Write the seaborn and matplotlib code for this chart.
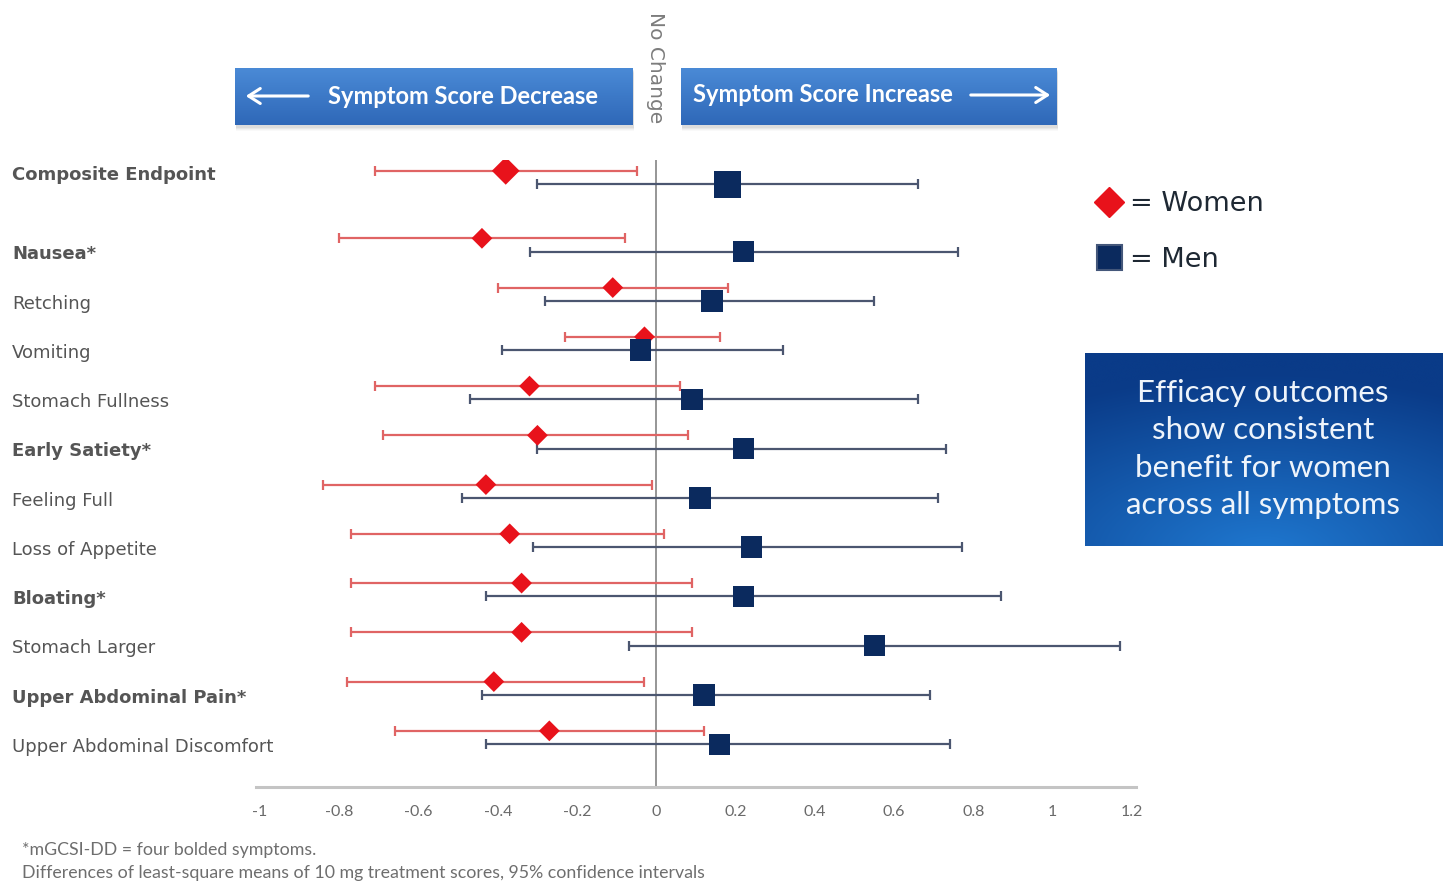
import numpy as np
import pandas as pd
import matplotlib
matplotlib.use("Agg")
import matplotlib.pyplot as plt
import matplotlib.transforms as mtransforms
from matplotlib.patches import Rectangle
from matplotlib.lines import Line2D
import seaborn as sns

# ---- data: least-square mean differences with 95% CI ----
symptoms = ["Composite Endpoint", "Nausea*", "Retching", "Vomiting",
            "Stomach Fullness", "Early Satiety*", "Feeling Full",
            "Loss of Appetite", "Bloating*", "Stomach Larger",
            "Upper Abdominal Pain*", "Upper Abdominal Discomfort"]
bold_symptoms = ["Composite Endpoint", "Nausea*", "Early Satiety*",
                 "Bloating*", "Upper Abdominal Pain*"]

women_est = [-0.38, -0.44, -0.11, -0.03, -0.32, -0.30, -0.43, -0.37, -0.34, -0.34, -0.41, -0.27]
women_lo = [-0.71, -0.80, -0.40, -0.23, -0.71, -0.69, -0.84, -0.77, -0.77, -0.77, -0.78, -0.66]
women_hi = [-0.05, -0.08, 0.18, 0.16, 0.06, 0.08, -0.01, 0.02, 0.09, 0.09, -0.03, 0.12]

men_est = [0.18, 0.22, 0.14, -0.04, 0.09, 0.22, 0.11, 0.24, 0.22, 0.55, 0.12, 0.16]
men_lo = [-0.30, -0.32, -0.28, -0.39, -0.47, -0.30, -0.49, -0.31, -0.43, -0.07, -0.44, -0.43]
men_hi = [0.66, 0.76, 0.55, 0.32, 0.66, 0.73, 0.71, 0.77, 0.87, 1.17, 0.69, 0.74]

x_ticks = [-1, -0.8, -0.6, -0.4, -0.2, 0, 0.2, 0.4, 0.6, 0.8, 1, 1.2]
x_tick_labels = ["-1", "-0.8", "-0.6", "-0.4", "-0.2", "0", "0.2", "0.4",
                 "0.6", "0.8", "1", "1.2"]

footnotes = ["*mGCSI-DD = four bolded symptoms.",
             "Differences of least-square means of 10 mg treatment scores, 95% confidence intervals"]
callout = "Efficacy outcomes\nshow consistent\nbenefit for women\nacross all symptoms"

# ---- colours ----
RED = "#e8121b"
RED_CI = "#e06464"
NAVY = "#0b2a5e"
NAVY_CI = "#4b5670"
LABEL_GREY = "#555555"

# ---- row layout: composite endpoint set apart from the item scores ----
row_pos = np.array([0.0] + [1.37 + i for i in range(len(symptoms) - 1)])
offset = 0.135

rows = []
for i, s in enumerate(symptoms):
    kind = "composite" if i == 0 else "item"
    rows.append(dict(symptom=s, sex="Women", est=women_est[i], lo=women_lo[i],
                     hi=women_hi[i], y=row_pos[i] - offset, key="Women " + kind))
    rows.append(dict(symptom=s, sex="Men", est=men_est[i], lo=men_lo[i],
                     hi=men_hi[i], y=row_pos[i] + offset, key="Men " + kind))
df = pd.DataFrame(rows)

sns.set_theme(style="white")
plt.rcParams["font.family"] = ["DejaVu Sans"]

W, H = 1447, 883
fig = plt.figure(figsize=(W / 100, H / 100), dpi=100)

def fx(px):
    return px / W

def fy(py):
    return 1 - py / H

# main forest plot axes
ax = fig.add_axes([fx(256), fy(787), fx(1136) - fx(256), fy(160) - fy(787)])
ax.set_facecolor("none")

# confidence intervals
for sex, col in (("Women", RED_CI), ("Men", NAVY_CI)):
    d = df[df.sex == sex]
    ax.errorbar(d.est, d.y, xerr=[d.est - d.lo, d.hi - d.est], fmt="none",
                ecolor=col, elinewidth=1.6, capsize=3.5, capthick=1.6, zorder=2)

sns.scatterplot(data=df, x="est", y="y", hue="sex", style="sex",
                size="key",
                sizes={"Women composite": 200, "Women item": 112,
                       "Men composite": 380, "Men item": 235},
                markers={"Women": "D", "Men": "s"},
                palette={"Women": RED, "Men": NAVY},
                linewidth=0, legend=False, zorder=4, ax=ax)

ax.axvline(0, color="#8e8e8e", lw=1.3, zorder=1)
ax.set_xlim(-1.01, 1.21)
ax.set_ylim(12.375, -0.355)
ax.set_xticks(x_ticks)
ax.set_xticklabels(x_tick_labels)
ax.set_yticks([])
ax.set_xlabel("")
ax.set_ylabel("")
ax.tick_params(axis="x", length=0, pad=13, labelsize=11.5, colors="#6a6a6a")
for lab in ax.get_xticklabels():
    lab.set_fontfamily(["Lato", "DejaVu Sans"])
for side in ("top", "right", "left"):
    ax.spines[side].set_visible(False)
ax.spines["bottom"].set_color("#c4c4c4")
ax.spines["bottom"].set_linewidth(2.2)

# symptom labels, left aligned at the figure edge
trans = mtransforms.blended_transform_factory(fig.transFigure, ax.transData)
for i, s in enumerate(symptoms):
    ylab = row_pos[i] - 0.06 if i == 0 else row_pos[i] + 0.19
    ax.text(fx(12), ylab, s, transform=trans, ha="left", va="center",
            fontsize=13, color=LABEL_GREY,
            fontweight="bold" if s in bold_symptoms else "normal")

# overlay axes in pixel coordinates for banners, callout and notes
ov = fig.add_axes([0, 0, 1, 1])
ov.set_axis_off()
ov.set_facecolor("none")

def gradient_box(x0, y0, x1, y1, top, bottom, radial=False):
    ny, nx = 60, 120
    c_top = np.array(matplotlib.colors.to_rgb(top))
    c_bot = np.array(matplotlib.colors.to_rgb(bottom))
    yy, xx = np.mgrid[0:1:ny * 1j, 0:1:nx * 1j]
    if radial:
        t = np.clip(1 - np.hypot((xx - 0.5) * 0.9, (yy - 1.05) * 1.0) / 0.95, 0, 1)
    else:
        t = yy
    img = c_top[None, None, :] * (1 - t[..., None]) + c_bot[None, None, :] * t[..., None]
    ov.imshow(img, extent=(x0, x1, y1, y0), origin="upper", aspect="auto",
              interpolation="bicubic", zorder=2)

# banner shadows
for k, a in enumerate([0.10, 0.08, 0.06, 0.04]):
    for bx0, bx1 in ((235, 633), (681, 1057)):
        ov.add_patch(Rectangle((bx0 + 1, 70 + k), bx1 - bx0, 58, color="#7a7a7a",
                               alpha=a, lw=0, zorder=1))

gradient_box(235, 68, 633, 125, "#4a8ad6", "#2f68b8")
gradient_box(681, 68, 1057, 125, "#4a8ad6", "#2f68b8")

bfont = dict(color="white", fontsize=17, fontweight="bold",
             family=["Lato", "DejaVu Sans"], va="center", zorder=3)
ov.text(463, 97, "Symptom Score Decrease", ha="center", **bfont)
ov.text(823, 94, "Symptom Score Increase", ha="center", **bfont)
ov.annotate("", xy=(243, 96), xytext=(311, 96),
            arrowprops=dict(arrowstyle="->,head_length=0.7,head_width=0.45",
                            color="white", lw=2.2), zorder=3)
ov.annotate("", xy=(1053, 95), xytext=(968, 95),
            arrowprops=dict(arrowstyle="->,head_length=0.7,head_width=0.45",
                            color="white", lw=2.2), zorder=3)
ov.text(656, 68, "No Change", rotation=-90, ha="center", va="center",
        fontsize=14.5, color="#7c7c7c", family=["DejaVu Sans"], zorder=3)

# callout box
gradient_box(1085, 353, 1443, 546, "#0a3b88", "#1f78d0", radial=True)
ov.text(1263, 449, callout, ha="center", va="center", color="#eef4fb",
        fontsize=22.5, family=["Lato", "DejaVu Sans"], linespacing=1.4, zorder=3)

# footnotes
ov.text(22, 850, footnotes[0], ha="left", va="center", fontsize=12.8,
        color="#6e6e6e", family=["Lato", "DejaVu Sans"])
ov.text(22, 873, footnotes[1], ha="left", va="center", fontsize=12.8,
        color="#6e6e6e", family=["Lato", "DejaVu Sans"])

ov.set_xlim(0, W)
ov.set_ylim(H, 0)

# legend for the two groups
handles = [Line2D([], [], ls="none", marker="D", ms=15, color=RED, mec=RED),
           Line2D([], [], ls="none", marker="s", ms=18, color=NAVY, mec="#44577a", mew=1.5)]
fig.legend(handles, ["= Women", "= Men"], loc="upper left",
           bbox_to_anchor=(fx(1093), fy(191)), frameon=False, fontsize=19.5,
           handlelength=1.2, handletextpad=0.15, labelspacing=1.1,
           borderpad=0, borderaxespad=0, labelcolor="#1e2833")

fig.savefig("out.png", dpi=100, facecolor="white")
